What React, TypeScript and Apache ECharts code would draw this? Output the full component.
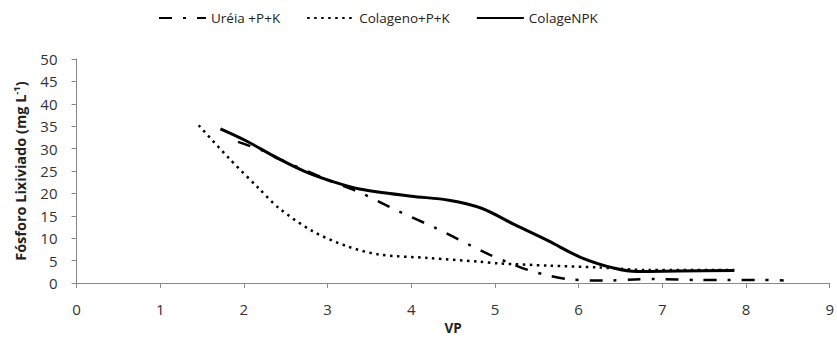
import React, { useEffect, useRef } from "react";
import * as echarts from "echarts";

const xTicks = [0, 1, 2, 3, 4, 5, 6, 7, 8, 9];
const yTicks = [0, 5, 10, 15, 20, 25, 30, 35, 40, 45, 50];

const seriesNames = ["Uréia +P+K", "Colageno+P+K", "ColageNPK"];

const ureiaX = [1.93, 2.26, 2.42, 3.02, 3.41, 3.85, 4.29, 4.72, 4.94, 5.16, 5.4, 5.64, 5.87, 6.15, 6.39, 6.67, 6.91, 7.18, 7.42, 7.66, 8.18, 8.45];
const ureiaY = [31.5, 29.3, 27.7, 22.9, 20.0, 16.0, 12.3, 8.3, 6.3, 4.6, 2.9, 1.7, 0.9, 0.6, 0.6, 0.8, 0.9, 0.8, 0.7, 0.7, 0.7, 0.6];

const colagenoX = [1.46, 1.83, 2.18, 2.42, 2.82, 3.22, 3.61, 4.21, 4.8, 5.04, 5.64, 6.23, 6.83, 7.86];
const colagenoY = [35.2, 27.7, 21.1, 16.7, 11.6, 8.3, 6.4, 5.6, 4.8, 4.4, 3.9, 3.5, 2.9, 2.9];

const npkX = [1.72, 2.03, 2.42, 2.74, 3.02, 3.38, 4.0, 4.45, 4.84, 5.24, 5.64, 6.03, 6.43, 6.7, 7.2, 7.86];
const npkY = [34.4, 31.7, 27.7, 24.8, 22.9, 21.0, 19.4, 18.5, 16.7, 13.0, 9.4, 5.7, 3.3, 2.6, 2.7, 2.8];

const zip = (xs: number[], ys: number[]) => xs.map((x, i) => [x, ys[i]]);

const FONT = "'Open Sans', Lato, sans-serif";

export default function App() {
  const ref = useRef<HTMLDivElement>(null);
  useEffect(() => {
    document.body.style.margin = "0";
    if (!ref.current) return;
    const chart = echarts.init(ref.current, null, { renderer: "svg" });
    const axisColor = "#898989";
    chart.setOption({
      animation: false,
      textStyle: { fontFamily: FONT },
      legend: {
        top: 6,
        left: 153,
        itemWidth: 47,
        itemHeight: 12,
        itemGap: 26,
        itemStyle: { opacity: 0 },
        textStyle: { fontSize: 13.5, color: "#222", fontFamily: FONT },
        data: seriesNames,
      },
      grid: { left: 76.5, right: 4.5, top: 59, bottom: 54, containLabel: false },
      xAxis: {
        type: "value",
        min: xTicks[0],
        max: xTicks[xTicks.length - 1],
        interval: 1,
        name: "VP",
        nameLocation: "middle",
        nameGap: 33,
        nameTextStyle: { fontSize: 13.5, fontWeight: "bold", color: "#222", fontFamily: FONT },
        axisLine: { lineStyle: { color: axisColor, width: 1 } },
        axisTick: { show: true, length: 5, lineStyle: { color: axisColor } },
        axisLabel: { fontSize: 15, color: "#333", margin: 18, fontFamily: FONT },
        splitLine: { show: false },
      },
      yAxis: {
        type: "value",
        min: yTicks[0],
        max: yTicks[yTicks.length - 1],
        interval: 5,
        name: "{a|Fósforo Lixiviado (mg L}{s|-1}{a|)}",
        nameLocation: "middle",
        nameGap: 47,
        nameRotate: 90,
        nameTextStyle: {
          rich: {
            a: { fontSize: 14.5, fontWeight: "bold", color: "#222", fontFamily: FONT },
            s: { fontSize: 9.5, fontWeight: "bold", color: "#222", fontFamily: FONT, verticalAlign: "top", padding: [0, 0, 8, 0] },
          },
        },
        axisLine: { show: true, lineStyle: { color: axisColor, width: 1 } },
        axisTick: { show: true, length: 5, lineStyle: { color: axisColor } },
        axisLabel: { fontSize: 15, color: "#333", margin: 19, fontFamily: FONT },
        splitLine: { show: false },
      },
      series: [
        {
          name: seriesNames[0],
          type: "line",
          data: zip(ureiaX, ureiaY),
          smooth: 0.3,
          symbol: "none",
          lineStyle: { color: "#000", width: 2.5, type: [13, 11, 3, 11], cap: "butt" },
          itemStyle: { color: "#000" },
        },
        {
          name: seriesNames[1],
          type: "line",
          data: zip(colagenoX, colagenoY),
          smooth: 0.3,
          symbol: "none",
          lineStyle: { color: "#000", width: 2.5, type: [2.5, 4.5], cap: "butt" },
          itemStyle: { color: "#000" },
        },
        {
          name: seriesNames[2],
          type: "line",
          data: zip(npkX, npkY),
          smooth: 0.3,
          symbol: "none",
          lineStyle: { color: "#000", width: 3 },
          itemStyle: { color: "#000" },
        },
      ],
    });
    return () => chart.dispose();
  }, []);
  return <div ref={ref} style={{ width: 837, height: 340 }} />;
}
